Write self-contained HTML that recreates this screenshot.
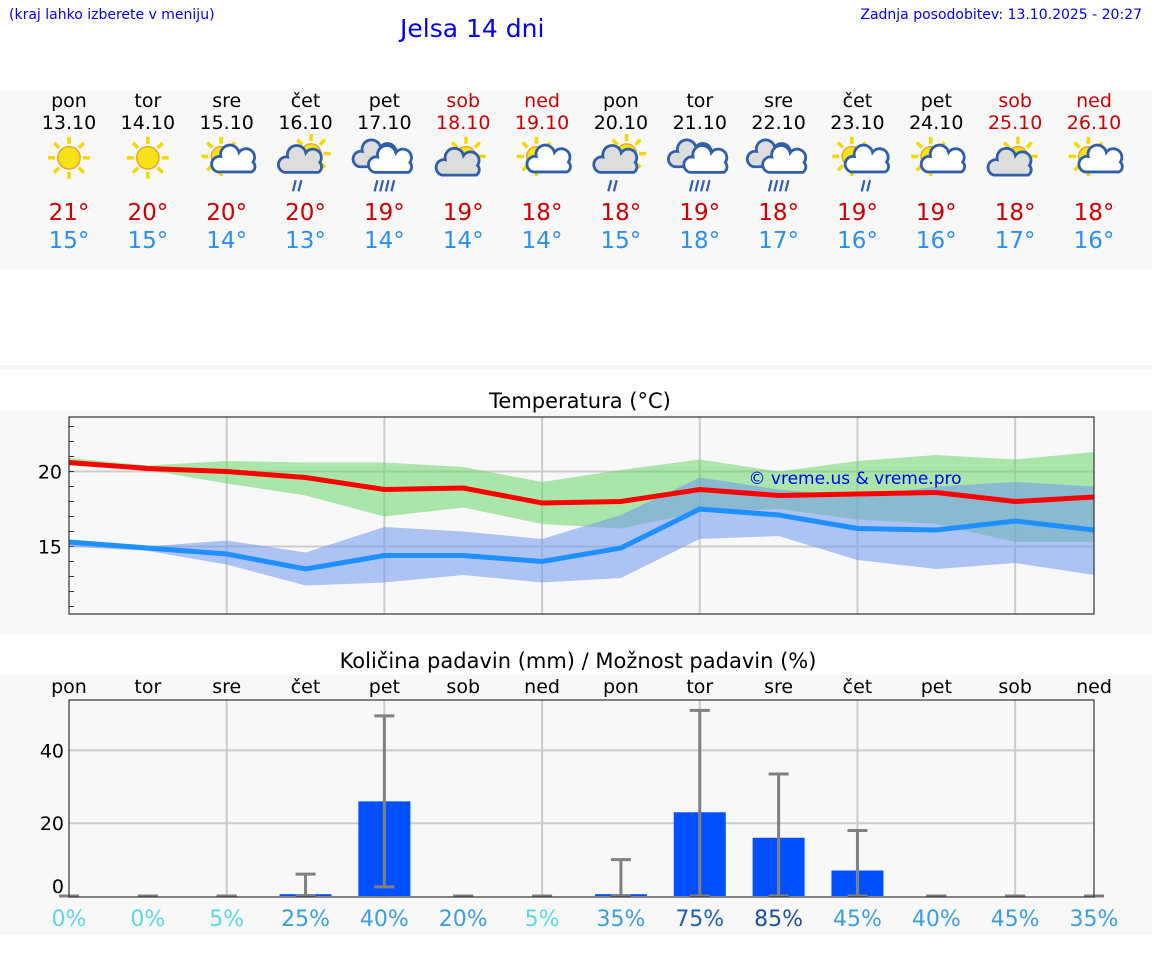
<!DOCTYPE html>
<html><head><meta charset="utf-8"><style>
body{margin:0;width:1152px;height:975px;background:#fff;font-family:"DejaVu Sans","Liberation Sans",sans-serif;position:relative;overflow:hidden}
.abs{position:absolute}
</style></head><body>
<div class="abs" style="left:9px;top:7px;font-size:14px;color:#0000ee">(kraj lahko izberete v meniju)</div>
<div class="abs" style="left:400px;top:14px;font-size:25px;color:#0000ee">Jelsa 14 dni</div>
<div class="abs" style="right:10px;top:7px;font-size:14px;color:#0000ee">Zadnja posodobitev: 13.10.2025 - 20:27</div>
<svg class="abs" style="left:0;top:0" width="1152" height="975" id="svg">
<rect x="0" y="90" width="1152" height="180" fill="#f8f8f8"/>
<rect x="0" y="365" width="1152" height="5" fill="#f6f6f6"/>
<rect x="0" y="410" width="1152" height="225" fill="#f8f8f8"/>
<rect x="0" y="675" width="1152" height="260" fill="#f8f8f8"/>
<text x="580" y="408" font-size="21" text-anchor="middle">Temperatura (°C)</text>
<text x="578" y="668" font-size="21" text-anchor="middle">Količina padavin (mm) / Možnost padavin (%)</text>
<g id="g"></g>
</svg>
<script>
const days=["pon","tor","sre","čet","pet","sob","ned","pon","tor","sre","čet","pet","sob","ned"];
const dates=["13.10","14.10","15.10","16.10","17.10","18.10","19.10","20.10","21.10","22.10","23.10","24.10","25.10","26.10"];
const icons=[0,0,1,2,3,4,1,2,3,3,5,1,4,1];
const tmax=[20.6,20.2,20.0,19.6,18.8,18.9,17.9,18.0,18.8,18.4,18.5,18.6,18.0,18.3];
const tmin=[15.3,14.9,14.5,13.5,14.4,14.4,14.0,14.9,17.5,17.1,16.2,16.1,16.7,16.1];
const maxHi=[20.9,20.4,20.7,20.6,20.6,20.3,19.3,20.1,20.8,20.0,20.7,21.1,20.8,21.3];
const maxLo=[20.4,20.1,19.2,18.4,17.0,17.6,16.5,16.2,17.3,17.5,16.8,16.5,15.3,15.3];
const minHi=[15.4,15.0,15.4,14.6,16.3,16.0,15.5,17.1,19.6,18.8,18.3,19.0,19.3,19.0];
const minLo=[15.0,14.7,13.8,12.4,12.6,13.1,12.6,12.9,15.5,15.7,14.1,13.5,13.9,13.1];
const dayMax=[21,20,20,20,19,19,18,18,19,18,19,19,18,18];
const dayMin=[15,15,14,13,14,14,14,15,18,17,16,16,17,16];
const precip=[0,0,0,0.5,26,0,0,0.5,23,16,7,0,0,0];
const precipHi=[0,0,0,6,49.5,0,0,10,51,33.5,18,0,0,0];
const precipLo=[0,0,0,0,2.5,0,0,0,0,0,0,0,0,0];
const chance=[0,0,5,25,40,20,5,35,75,85,45,40,45,35];
const NS="http://www.w3.org/2000/svg",G=document.getElementById('g');
function el(t,a,p){const e=document.createElementNS(NS,t);for(const k in a)e.setAttribute(k,a[k]);(p||G).appendChild(e);return e;}
function X(i){return 69+i*(1025/13);}
function TY(t){return 471.5-(t-20)*15;}
function PY(v){return 896-v*3.64;}
// daily
days.forEach((d,i)=>{const x=X(i),we=(i==5||i==6||i==12||i==13);const col=we?"#cc0000":"#000";
let t=el('text',{x:x,y:107,'font-size':19,'text-anchor':'middle',fill:col});t.textContent=d;

t=el('text',{x:x,y:129,'font-size':19,'text-anchor':'middle',fill:col});t.textContent=dates[i];

t=el('text',{x:x,y:220,'font-size':23,'text-anchor':'middle',fill:'#cc0000'});t.textContent=dayMax[i]+"°";

t=el('text',{x:x,y:248,'font-size':23,'text-anchor':'middle',fill:'#2b8ff0'});t.textContent=dayMin[i]+"°";

const g=el('g',{transform:`translate(${x},162) scale(1.4)`});

const ty=icons[i];
function sun(cx,cy,r){for(let k=0;k<8;k++){const a=k*Math.PI/4;el('line',{x1:cx+Math.cos(a)*(r+2),y1:cy+Math.sin(a)*(r+2),x2:cx+Math.cos(a)*(r+7),y2:cy+Math.sin(a)*(r+7),stroke:'#f5d800','stroke-width':2.5},g);}el('circle',{cx:cx,cy:cy,r:r,fill:'#f7e21a',stroke:'#f0a020','stroke-width':1},g);}
function cloud(cx,cy,s,fill){el('path',{d:`M${cx-12*s},${cy+6*s} a6,6 0 0 1 2,-11 a7,7 0 0 1 13,-3 a6,6 0 0 1 10,7 a5,5 0 0 1 -1,7 z`.replace(/a(\d+),(\d+)/g,(m,a,b)=>'a'+a*s+','+b*s),fill:fill,stroke:'#2f5fa8','stroke-width':2},g);}
function rain(cx,cy,n){for(let k=0;k<n;k++)el('line',{x1:cx+k*4-(n-1)*2+1,y1:cy,x2:cx+k*4-(n-1)*2-1,y2:cy+8,stroke:'#3060b0','stroke-width':1.6},g);}
if(ty==0){sun(0,-3,8);}
else if(ty==1){sun(-4,-4,7);cloud(4,2,0.85,'#fff');}
else if(ty==2){sun(4,-6,7);cloud(-4,2,0.9,'#ddd');rain(-6,13,2);}
else if(ty==3){cloud(-7,-2,0.9,'#ddd');cloud(4,2,0.9,'#fff');rain(0,13,4);}
else if(ty==4){sun(2,-4,7);cloud(-4,4,0.9,'#ddd');}
else if(ty==5){sun(-4,-4,7);cloud(6,2,0.85,'#fff');rain(6,13,2);}
});
// temperature chart
[15,20].forEach(v=>{el('line',{x1:69,x2:1094,y1:TY(v),y2:TY(v),stroke:'#ccc','stroke-width':2});
const t=el('text',{x:62,y:TY(v)+7,'font-size':19,'text-anchor':'end'});t.textContent=v;
});
for(let v=11;v<=23;v++)el('line',{x1:69,x2:74,y1:TY(v),y2:TY(v),stroke:'#333'});
for(let i=2;i<14;i+=2)el('line',{x1:X(i),x2:X(i),y1:417,y2:614,stroke:'#ccc','stroke-width':2});
function band(hi,lo,col,name){let d=hi.map((v,i)=>(i?'L':'M')+X(i)+','+TY(v)).join('')+lo.map((v,i)=>i).reverse().map(i=>'L'+X(i)+','+TY(lo[i])).join('')+'Z';
const p=el('path',{d:d,fill:col,'fill-opacity':0.55});}
band(maxHi,maxLo,'#6ad66a','max-temp-range');band(minHi,minLo,'#6f97ee','min-temp-range');
function line(a,col,name){const p=el('polyline',{points:a.map((v,i)=>X(i)+','+TY(v)).join(' '),fill:'none',stroke:col,'stroke-width':5});}
line(tmax,'#ff0000','max-temp-line');line(tmin,'#1e90ff','min-temp-line');
let w=el('text',{x:855,y:484,'font-size':17,'text-anchor':'middle',fill:'#0000ee'});w.textContent="© vreme.us & vreme.pro";

el('rect',{x:69,y:417,width:1025,height:197,fill:'none',stroke:'#333','stroke-width':1.2});
// precip chart
[20,40].forEach(v=>el('line',{x1:69,x2:1094,y1:PY(v),y2:PY(v),stroke:'#ccc','stroke-width':2}));
[0,20,40].forEach(v=>{const t=el('text',{x:64,y:(v?PY(v):886)+7,'font-size':19,'text-anchor':'end'});t.textContent=v;
});
for(let i=2;i<14;i+=2)el('line',{x1:X(i),x2:X(i),y1:700,y2:897,stroke:'#ccc','stroke-width':2});
days.forEach((d,i)=>{const x=X(i);
let t=el('text',{x:x,y:693,'font-size':19,'text-anchor':'middle'});t.textContent=d;

if(precip[i]>0){const b=el('rect',{x:x-26,y:PY(precip[i]),width:52,height:896-PY(precip[i]),fill:'#0050ff'});
}
const e=el('g',{stroke:'#808080','stroke-width':3});
el('line',{x1:x,x2:x,y1:PY(precipHi[i]),y2:PY(precipLo[i])},e);
el('line',{x1:x-10,x2:x+10,y1:PY(precipHi[i]),y2:PY(precipHi[i])},e);
el('line',{x1:x-10,x2:x+10,y1:PY(precipLo[i]),y2:PY(precipLo[i])},e);
const c=chance[i];const col=c>=85?'#1a50a8':c>=75?'#2060b8':c>=20?'#3a9ee0':'#5ad8e8';
t=el('text',{x:x,y:926,'font-size':22,'text-anchor':'middle',fill:col});t.textContent=c+"%";
});
el('rect',{x:69,y:700,width:1025,height:197,fill:'none',stroke:'#333','stroke-width':1.2});
</script>
</body></html>
